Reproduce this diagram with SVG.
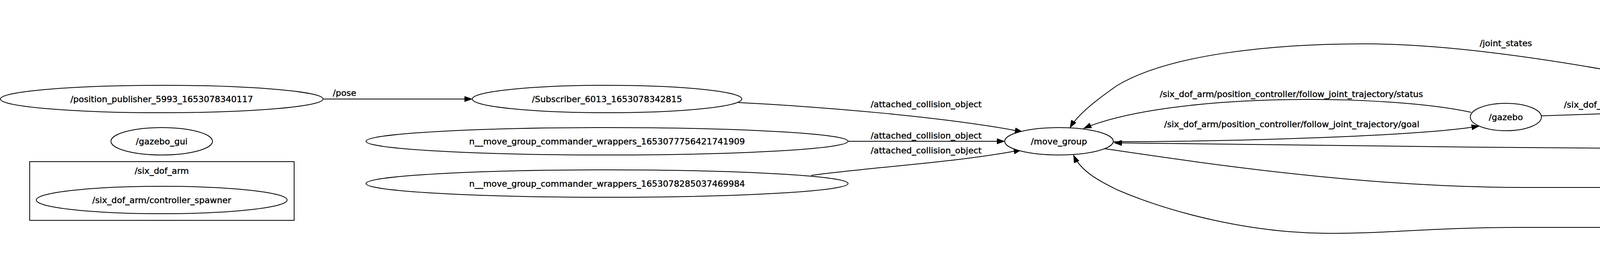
<svg xmlns="http://www.w3.org/2000/svg" width="6680" height="649" viewBox="0 0 6680 649">
<style>
.n ellipse{fill:#fff;stroke:#000;stroke-width:2}
text{font-family:"DejaVu Sans","Liberation Sans",sans-serif;font-size:22px;fill:#000;stroke:#000;stroke-width:0.5;text-anchor:middle}
.e path{fill:none;stroke:#000;stroke-width:2;marker-end:url(#ah)}
.cl{fill:none;stroke:#000;stroke-width:2}
</style>
<defs>
<marker id="ah" markerUnits="userSpaceOnUse" markerWidth="21" markerHeight="15" refX="20" refY="7.5" orient="auto" viewBox="0 0 21 15"><path d="M0,0 L21,7.5 L0,15 z" fill="#000"/></marker>
</defs>
<rect width="6680" height="649" fill="#fff"/>
<g id="cluster_six_dof_arm">
<rect class="cl" x="76" y="413" width="677" height="150"/>
<text x="414" y="444">/six_dof_arm</text>
</g>
<g class="e" id="connectors">
<path d="M828,253 L1209,253"/>
<path d="M1890,262 C2090,272 2420,298 2618,337"/>
<path d="M2172,361 L2572,361"/>
<path d="M2077,448 C2250,425 2450,415 2615,383"/>
<path d="M4446,244 C4100,170 3750,112 3493,112 C3250,112 2990,140 2859,219 C2815,250 2760,290 2739,327"/>
<path d="M3766,287 C3550,240 3000,235 2774,328"/>
<path d="M2851,362 C3150,362 3640,348 3787,322"/>
<path d="M3946,296 L4334,283"/>
<path d="M4685,304 C4740,318 4900,345 5035,365"/>
<path d="M4770,285 C5100,300 5500,335 5894,399"/>
<path d="M5428,398 L5644,409"/>
<path d="M4982,386 C4500,382 3500,375 2852,365"/>
<path d="M2828,380 C3100,420 3500,479 3900,479 L5000,479 C5300,479 5550,472 5723,460"/>
<path d="M5961,467 C5800,510 5500,581 5200,581 L3900,581 C3650,581 3550,598 3388,596 C3200,594 3000,545 2860,485 C2820,465 2768,440 2748,396"/>
</g>
<g id="edge_labels">
<text x="882" y="245">/pose</text>
<text x="2371" y="274">/attached_collision_object</text>
<text x="2371" y="354">/attached_collision_object</text>
<text x="2371" y="392">/attached_collision_object</text>
<text x="3306" y="248">/six_dof_arm/position_controller/follow_joint_trajectory/status</text>
<text x="3307" y="325">/six_dof_arm/position_controller/follow_joint_trajectory/goal</text>
<text x="3855" y="118">/joint_states</text>
<text x="4140" y="275">/six_dof_arm/joint_states</text>
<text x="4879" y="317">/joint_states</text>
<text x="4140" y="371">/tf</text>
<text x="4554" y="471">/move_group/status</text>
<text x="4553" y="573">/attached_collision_object</text>
<text x="5210" y="288">/joint_states</text>
<text x="5471" y="392">/tf</text>
</g>
<g class="n" id="position_publisher"><ellipse cx="414" cy="253" rx="413" ry="35"/><text x="414" y="261">/position_publisher_5993_1653078340117</text></g>
<g class="n" id="gazebo_gui"><ellipse cx="414" cy="361" rx="130" ry="35"/><text x="414" y="369">/gazebo_gui</text></g>
<g class="n" id="controller_spawner"><ellipse cx="414" cy="511" rx="321" ry="35"/><text x="414" y="519">/six_dof_arm/controller_spawner</text></g>
<g class="n" id="subscriber"><ellipse cx="1554" cy="253" rx="345" ry="35"/><text x="1554" y="261">/Subscriber_6013_1653078342815</text></g>
<g class="n" id="mgcw_909"><ellipse cx="1554" cy="361" rx="617" ry="35"/><text x="1554" y="369">n__move_group_commander_wrappers_1653077756421741909</text></g>
<g class="n" id="mgcw_984"><ellipse cx="1554" cy="469" rx="617" ry="35"/><text x="1554" y="477">n__move_group_commander_wrappers_1653078285037469984</text></g>
<g class="n" id="move_group"><ellipse cx="2711" cy="361" rx="139" ry="35"/><text x="2711" y="369">/move_group</text></g>
<g class="n" id="gazebo"><ellipse cx="3855" cy="299" rx="91" ry="35"/><text x="3855" y="307">/gazebo</text></g>
<g class="n" id="joint_state_publisher"><ellipse cx="4554" cy="275" rx="220" ry="35"/><text x="4554" y="283">/joint_state_publisher</text></g>
<g class="n" id="robot_state_publisher"><ellipse cx="5211" cy="387" rx="228" ry="35"/><text x="5211" y="395">/robot_state_publisher</text></g>
<g class="n" id="mgcw_543"><ellipse cx="6088" cy="433" rx="583" ry="35"/><text x="6088" y="441">/move_group_commander_wrappers_1653078343027573543</text></g>
</svg>
